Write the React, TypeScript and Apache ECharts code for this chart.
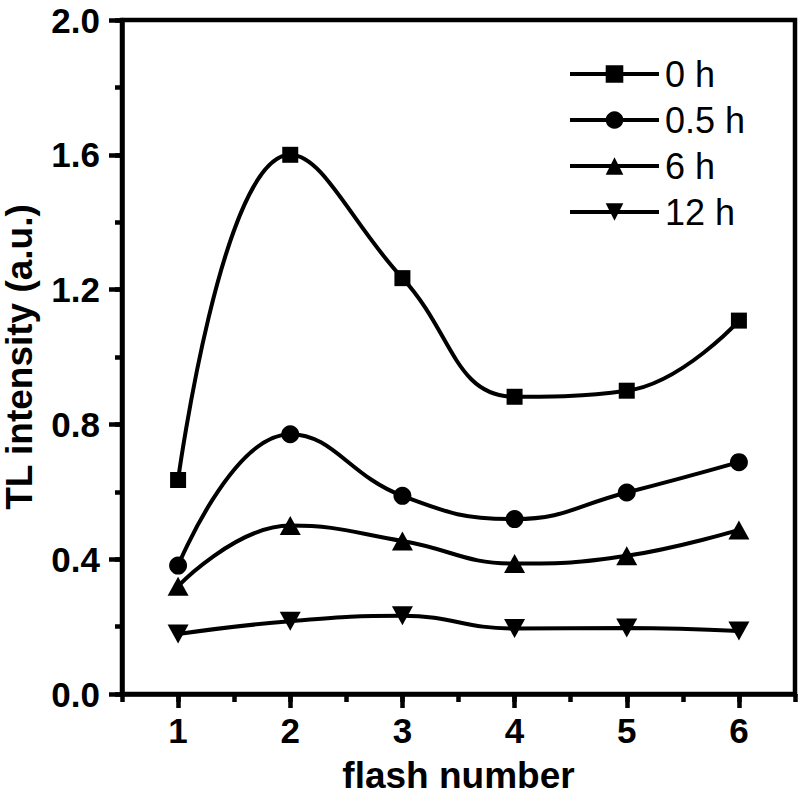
import React, { useEffect, useRef } from "react";
import * as echarts from "echarts";

const flashNumbers = [1, 2, 3, 4, 5, 6];
const seriesNames = ["0 h", "0.5 h", "6 h", "12 h"];
const h0 = [0.635, 1.6, 1.234, 0.882, 0.9, 1.108];
const h05 = [0.381, 0.771, 0.588, 0.519, 0.598, 0.688];
const h6 = [0.32, 0.5, 0.454, 0.387, 0.41, 0.487];
const h12 = [0.178, 0.216, 0.232, 0.194, 0.196, 0.187];
const xTickValues = [1, 2, 3, 4, 5, 6];

const FONT = "'Liberation Sans', Arial, Helvetica, sans-serif";
const AXW = 4.5;

export default function App() {
  const ref = useRef<HTMLDivElement>(null);
  useEffect(() => {
    if (!ref.current) return;
    const chart = echarts.init(ref.current, null, { renderer: "svg" });
    const pairs = (ys: number[]) => flashNumbers.map((x, i) => [x, ys[i]]);
    const mk = (name: string, ys: number[], symbol: string, size: any, rotate = 0) => ({
      name,
      type: "line",
      data: pairs(ys),
      smooth: 0.45,
      symbol,
      symbolSize: size,
      symbolRotate: rotate,
      showSymbol: true,
      lineStyle: { color: "#000", width: 4 },
      itemStyle: { color: "#000" },
      xAxisIndex: 0,
      yAxisIndex: 0,
      z: 5,
    });
    chart.setOption({
      animation: false,
      backgroundColor: "#fff",
      grid: {
        left: 122,
        right: 5,
        top: 20,
        bottom: 100,
        show: true,
        borderColor: "#000",
        borderWidth: AXW,
        containLabel: false,
        outerBoundsMode: "none",
      },
      legend: {
        orient: "vertical",
        left: 563,
        top: 46,
        itemWidth: 89,
        itemHeight: 22,
        itemGap: 0,
        lineStyle: { width: 4, color: "#000" },
        textStyle: {
          fontFamily: FONT,
          fontSize: 36,
          color: "#000",
          lineHeight: 46,
          padding: [0, 0, 0, 1],
        },
        data: seriesNames,
      },
      xAxis: [
        {
          type: "value",
          min: 0.5,
          max: 6.5,
          interval: 0.5,
          position: "bottom",
          axisLine: { show: true, lineStyle: { color: "#000", width: AXW } },
          axisTick: { show: true, inside: false, length: 8, lineStyle: { color: "#000", width: AXW } },
          axisLabel: { show: false },
          splitLine: { show: false },
        },
        {
          type: "value",
          min: 0.5,
          max: 6.5,
          position: "bottom",
          name: "flash number",
          nameLocation: "middle",
          nameGap: 65,
          nameTextStyle: { fontFamily: FONT, fontSize: 37, lineHeight: 32, fontWeight: "bold", color: "#000" },
          axisLine: { show: false },
          axisTick: {
            show: true,
            length: 14,
            customValues: xTickValues,
            lineStyle: { color: "#000", width: AXW },
          },
          axisLabel: {
            show: true,
            customValues: xTickValues,
            margin: 19,
            fontFamily: FONT,
            fontSize: 35,
            fontWeight: "bold",
            color: "#000",
          },
          splitLine: { show: false },
        },
      ],
      yAxis: [
        {
          type: "value",
          min: 0,
          max: 2,
          interval: 0.2,
          position: "left",
          axisLine: { show: true, lineStyle: { color: "#000", width: AXW } },
          axisTick: { show: true, length: 7, lineStyle: { color: "#000", width: AXW } },
          axisLabel: { show: false },
          splitLine: { show: false },
        },
        {
          type: "value",
          min: 0,
          max: 2,
          interval: 0.4,
          position: "left",
          name: "TL intensity (a.u.)",
          nameLocation: "middle",
          nameGap: 87,
          nameTextStyle: { fontFamily: FONT, fontSize: 37, lineHeight: 32, fontWeight: "bold", color: "#000" },
          axisLine: { show: false },
          axisTick: { show: true, length: 13, lineStyle: { color: "#000", width: AXW } },
          axisLabel: {
            show: true,
            margin: 22,
            fontFamily: FONT,
            fontSize: 35,
            fontWeight: "bold",
            color: "#000",
            formatter: (v: number) => v.toFixed(1),
          },
          splitLine: { show: false },
        },
      ],
      series: [
        mk(seriesNames[0], h0, "rect", 16),
        mk(seriesNames[1], h05, "circle", 18),
        mk(seriesNames[2], h6, "triangle", [21, 19]),
        mk(seriesNames[3], h12, "triangle", [21, 19], 180),
      ],
    });
    return () => chart.dispose();
  }, []);
  return (
    <div
      ref={ref}
      style={{ position: "absolute", left: 0, top: 0, width: 800, height: 794, background: "#fff" }}
    />
  );
}
